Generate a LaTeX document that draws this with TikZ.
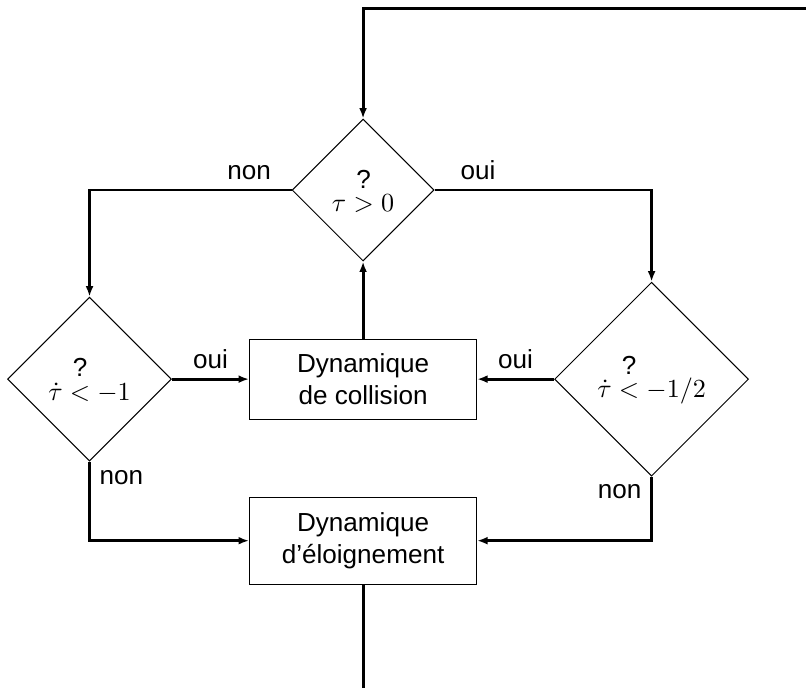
\documentclass[tikz,border=0pt]{standalone}
\usepackage[no-math]{fontspec}
\setmainfont{Liberation Sans}
\usepackage{amsmath}
\usepackage{tikz}
\usetikzlibrary{shapes.geometric, arrows.meta, positioning}
\newcommand{\qrel}[1]{\mathrel{\overset{\raisebox{1.5pt}{\mbox{?}}}{#1}}}
\tikzstyle{arrow} = [-{Latex[length=4pt,width=3pt]}, line width=1.1pt]
\tikzstyle{wire} = [line width=1.1pt]
\tikzstyle{test} = [diamond, aspect=1, draw, thin, inner sep=1pt, align=center]
\tikzstyle{dyn} = [rectangle, draw, thin, minimum width=87pt, align=center]

\begin{document}
\begin{tikzpicture}[node distance=29.5pt]
    \useasboundingbox (0,0) rectangle (308.8pt,-263.6pt);
    % Tests and dynamics
    \node[test, minimum size=54.4pt] (tau) at (139.1pt,-72.8pt) {$\tau \qrel{>} 0$};
    \node[dyn, minimum height=30.7pt, below=of tau] (coll) {Dynamique\\de collision};
    \node[dyn, minimum height=33.3pt, below=of coll] (elo) {Dynamique\\d’éloignement};
    \node[test, minimum size=62.8pt, left=of coll] (tdotone) {$\dot\tau \qrel{<} -1$};
    \node[test, minimum size=74.3pt, right=of coll] (tdothalf) {$\dot\tau \qrel{<} -1/2$};
    \coordinate (loopin) at (308.8pt,-3.1pt);
    \coordinate (loopout) at (139.1pt,-263.6pt);

    % Arrows
    \draw[arrow] (loopin) -| (tau.north);
    \draw[arrow] (tau.west) -| (tdotone.north) node[pos=0.105, above] {non};
    \draw[arrow] (tau.east) -| (tdothalf.north) node[pos=0.1, above] {oui};
    \draw[arrow] (tdotone.east) -- (coll.west) node[midway, above] {oui};
    \draw[arrow] (tdothalf.west) -- (coll.east) node[midway, above] {oui};
    \draw[arrow] (coll.north) -- (tau.south);
    \draw[arrow] (tdotone.south) |- (elo.west) node[pos=0.1, right] {non};
    \draw[arrow] (tdothalf.south) |- (elo.east) node[pos=0.12, left] {non};
    \draw[wire] (elo.south) -- (elo.south |- loopout);
\end{tikzpicture}
\end{document}
